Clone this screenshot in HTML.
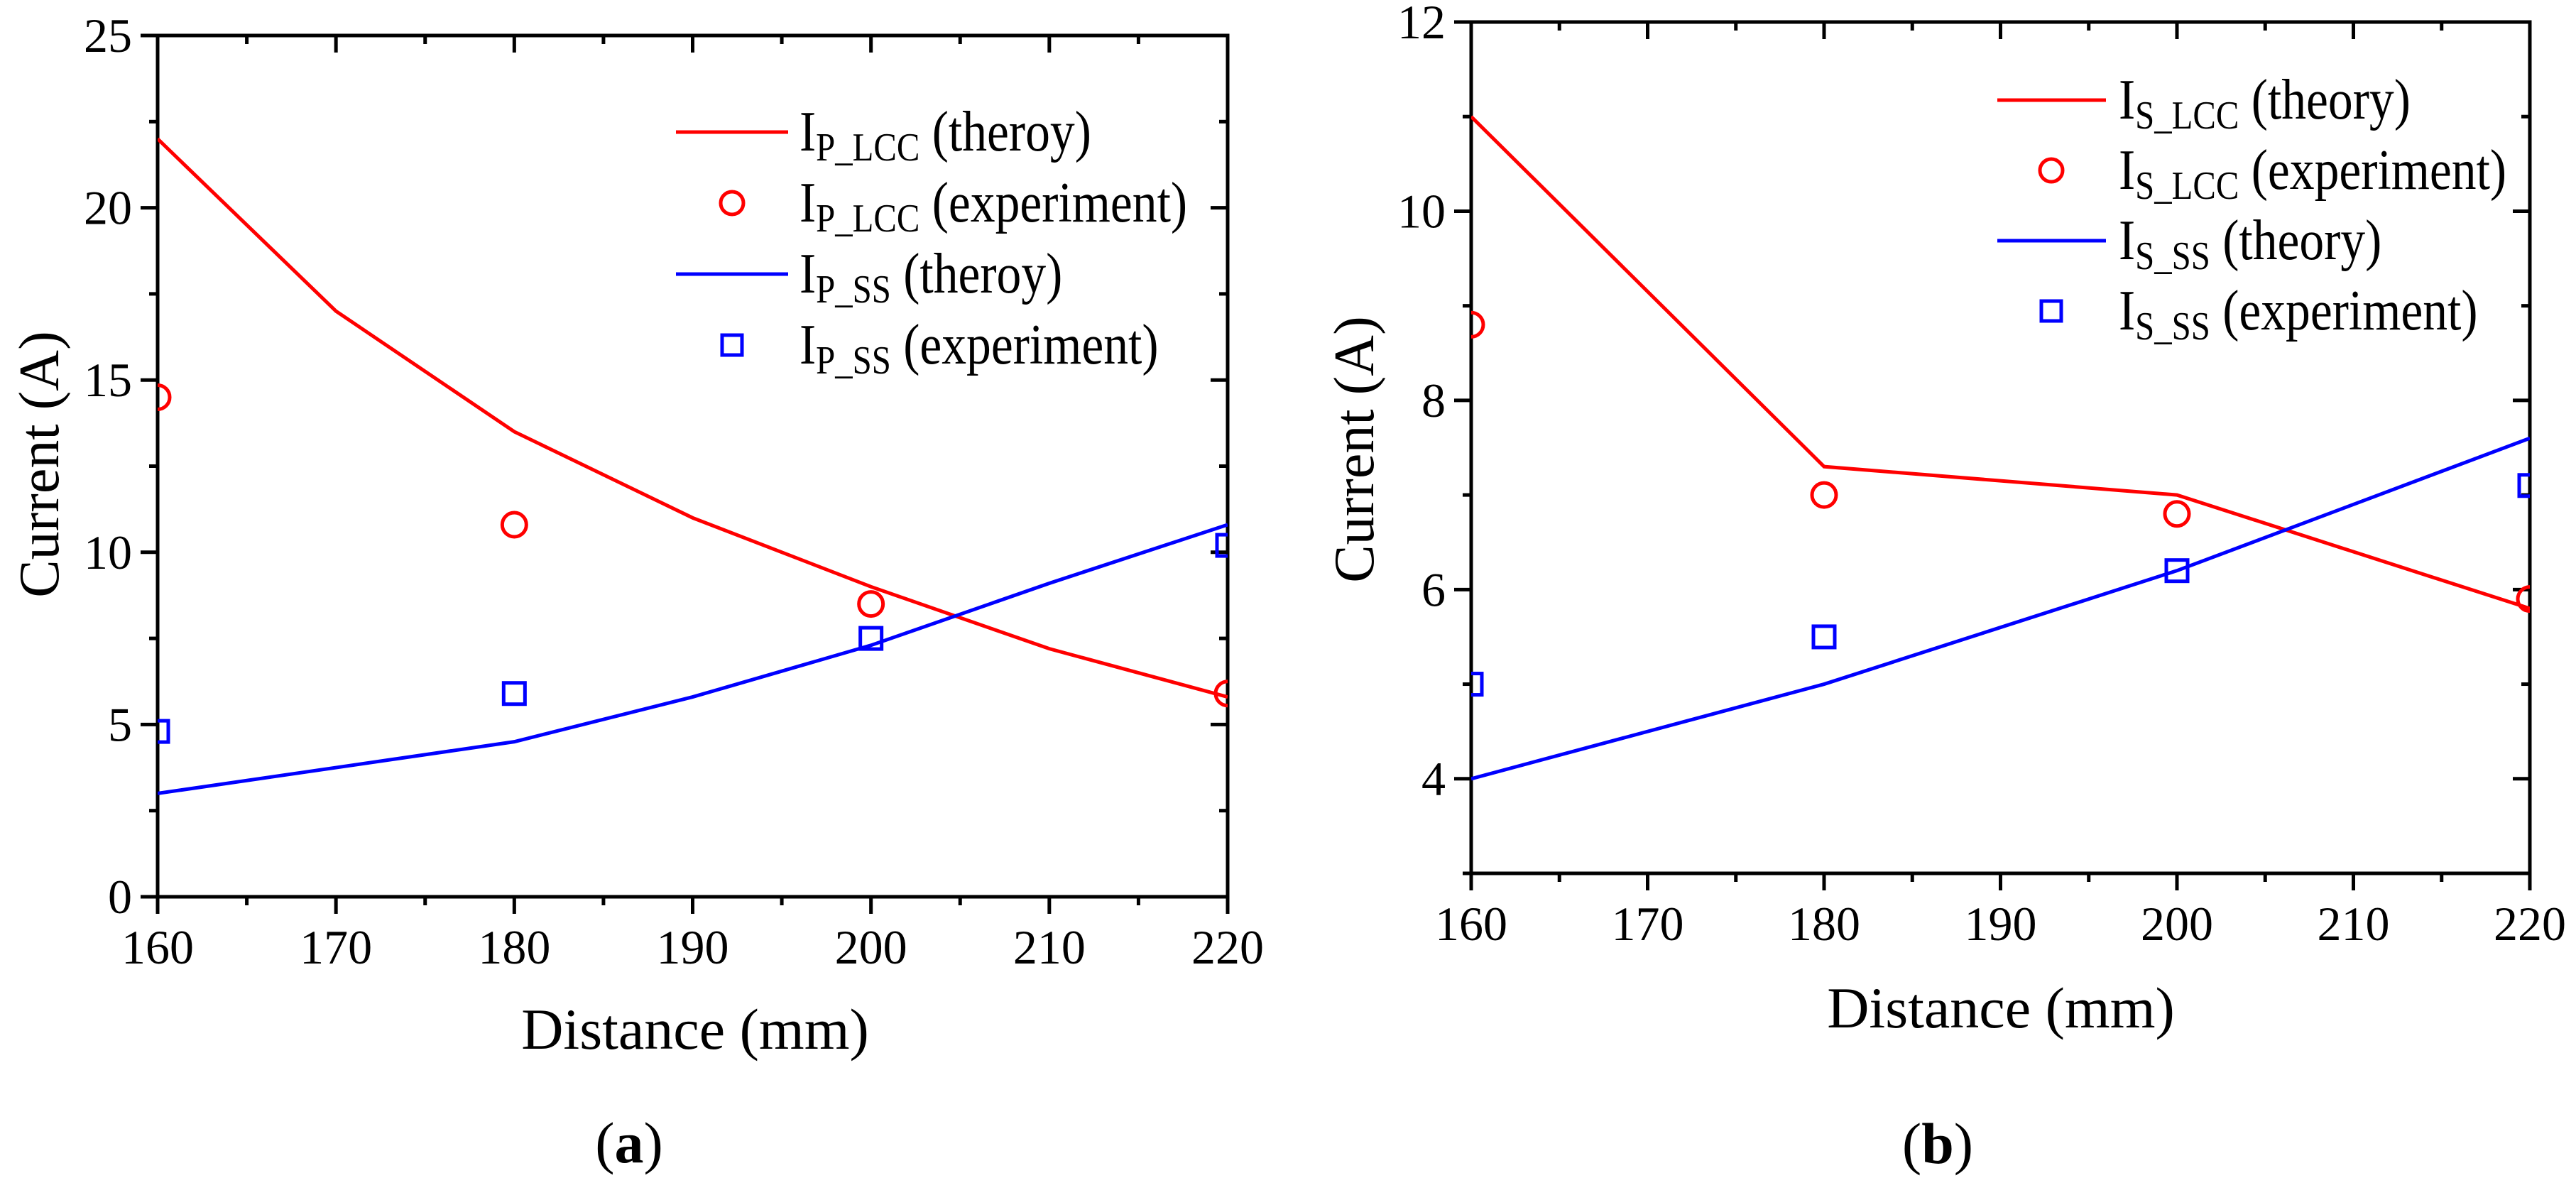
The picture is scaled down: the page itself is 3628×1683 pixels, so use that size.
<!DOCTYPE html>
<html><head><meta charset="utf-8"><style>
html,body{margin:0;padding:0;background:#fff}
text,tspan{font-family:"Liberation Serif","Times New Roman",serif !important;fill:#000}
</style></head><body>
<svg id="s" width="3628" height="1678" viewBox="0 0 3628 1678" xmlns="http://www.w3.org/2000/svg" font-family="Liberation Serif, serif"></svg>
<script>
const xCats = [160,170,180,190,200,210,220];
const xCats4 = [160,180,200,220];
const xTickLabels = ["160","170","180","190","200","210","220"];
// panel a
const aLccTheory = [22,17,13.5,11,9,7.2,5.8];
const aLccExp = [14.5,10.8,8.5,5.9];
const aSsTheory = [3,3.75,4.5,5.8,7.3,9.1,10.8];
const aSsExp = [4.8,5.9,7.5,10.2];
const aYTicks = [0,5,10,15,20,25];
// panel b
const bLccTheory = [11,7.3,7.0,5.8];
const bLccExp = [8.8,7.0,6.8,5.9];
const bSsTheory = [4,5,6.2,7.6];
const bSsExp = [5.0,5.5,6.2,7.1];
const bYTicks = [4,6,8,10,12];

const NS="http://www.w3.org/2000/svg";
const svg=document.getElementById('s');
function el(tag,attrs,parent){const e=document.createElementNS(NS,tag);for(const k in attrs)e.setAttribute(k,attrs[k]);if(tag==='text')e.setAttribute('font-family','Liberation Serif, serif');(parent||svg).appendChild(e);return e;}

function panel(p){
  const g=el('g',{});
  
  
  const X=v=>p.x0+(v-160)/60*(p.x1-p.x0);
  const Y=v=>p.y1-(v-p.ymin)/(p.ymax-p.ymin)*(p.y1-p.y0);
  const cid='clip'+p.name;
  const cp=el('clipPath',{id:cid},g);
  el('rect',{x:p.x0,y:p.y0,width:p.x1-p.x0,height:p.y1-p.y0},cp);
  for(let v=160;v<=220;v+=5){
    const major=v%10===0, L=major?24:12, xx=X(v);
    const t=el('line',{x1:xx,x2:xx,y1:p.y1,y2:p.y1+L,stroke:'#000','stroke-width':5},g);
    
    el('line',{x1:xx,x2:xx,y1:p.y0,y2:p.y0+L,stroke:'#000','stroke-width':5},g);
  }
  xTickLabels.forEach((s,i)=>{
    const t=el('text',{x:X(xCats[i]),y:p.y1+94,'font-size':68,'text-anchor':'middle'},g);t.textContent=s;
    
  });
  for(let v=p.ymin;v<=p.ymax+1e-9;v+=p.minor){
    const major=p.yTicks.some(m=>Math.abs(m-v)<1e-9), L=major?24:12, yy=Y(v);
    el('line',{x1:p.x0-L,x2:p.x0,y1:yy,y2:yy,stroke:'#000','stroke-width':5},g);
    el('line',{x1:p.x1-L,x2:p.x1,y1:yy,y2:yy,stroke:'#000','stroke-width':5},g);
  }
  p.yTicks.forEach(v=>{
    const t=el('text',{x:p.x0-36,y:Y(v)+23,'font-size':68,'text-anchor':'end'},g);t.textContent=String(v);
    
  });
  const fr=el('rect',{x:p.x0,y:p.y0,width:p.x1-p.x0,height:p.y1-p.y0,fill:'none',stroke:'#000','stroke-width':5},g);
  
  const dg=el('g',{'clip-path':'url(#'+cid+')'},g);
  function line(xs,ys,c,n){const l=el('polyline',{points:xs.map((x,i)=>X(x)+','+Y(ys[i])).join(' '),fill:'none',stroke:c,'stroke-width':5},dg);
    }
  function circles(xs,ys,n){xs.forEach((x,i)=>{const c=el('circle',{cx:X(x),cy:Y(ys[i]),r:17,fill:'none',stroke:'#f00','stroke-width':5},dg);
    });}
  function squares(xs,ys,n){xs.forEach((x,i)=>{const c=el('rect',{x:X(x)-15,y:Y(ys[i])-15,width:30,height:30,fill:'none',stroke:'#00f','stroke-width':5},dg);
    });}
  line(p.lccX,p.lccT,'#f00','lcc-theory-line');
  line(p.ssX,p.ssT,'#00f','ss-theory-line');
  circles(xCats4,p.lccE,'lcc-experiment-point');
  squares(xCats4,p.ssE,'ss-experiment-point');
  const yt=el('text',{x:0,y:0,'font-size':80,'text-anchor':'middle',transform:`translate(${p.ytx},${p.yty}) rotate(-90)`},g);
  yt.textContent='Current (A)';
  const xt=el('text',{x:p.xtx,y:p.xty,'font-size':82,'text-anchor':'middle'},g);
  xt.textContent='Distance (mm)';
  const cap=el('text',{x:p.capx,y:p.capy,'font-size':82,'text-anchor':'middle'},g);
  cap.innerHTML='(<tspan font-weight="bold">'+p.cap+'</tspan>)';
  
  const lg=el('g',{},g);
  p.legend.forEach((e,i)=>{
    const yy=p.ly+i*p.lstep;
    const eg=el('g',{},lg);
    if(e.t==='line')el('line',{x1:p.lx0,x2:p.lx1,y1:yy,y2:yy,stroke:e.c,'stroke-width':5},eg);
    else if(e.t==='circle')el('circle',{cx:p.mx,cy:yy,r:16,fill:'none',stroke:e.c,'stroke-width':5},eg);
    else el('rect',{x:p.mx-14,y:yy-14,width:28,height:28,fill:'none',stroke:e.c,'stroke-width':5},eg);
    const t=el('text',{x:0,y:0,'font-size':80,transform:`translate(${p.tx},${yy+26}) scale(0.87,1)`},eg);
    t.innerHTML='I<tspan font-size="56" dy="14">'+e.sub+'</tspan><tspan dy="-14"> '+e.txt+'</tspan>';
  });
}

panel({name:'panel-a',x0:222,x1:1729,y0:50,y1:1263,ymin:0,ymax:25,minor:2.5,yTicks:aYTicks,
  lccX:xCats,lccT:aLccTheory,ssX:xCats,ssT:aSsTheory,lccE:aLccExp,ssE:aSsExp,
  ytx:82,yty:654,xtx:979,xty:1477,capx:886,capy:1637,cap:'a',
  lx0:952,lx1:1110,mx:1031,tx:1126,ly:186,lstep:100,
  legend:[{t:'line',c:'#f00',sub:'P_LCC',txt:'(theroy)'},{t:'circle',c:'#f00',sub:'P_LCC',txt:'(experiment)'},
          {t:'line',c:'#00f',sub:'P_SS',txt:'(theroy)'},{t:'square',c:'#00f',sub:'P_SS',txt:'(experiment)'}]});
panel({name:'panel-b',x0:2072,x1:3563,y0:31,y1:1230,ymin:3,ymax:12,minor:1,yTicks:bYTicks,
  lccX:xCats4,lccT:bLccTheory,ssX:xCats4,ssT:bSsTheory,lccE:bLccExp,ssE:bSsExp,
  ytx:1934,yty:633,xtx:2818,xty:1447,capx:2729,capy:1638,cap:'b',
  lx0:2813,lx1:2966,mx:2889,tx:2984,ly:141,lstep:99,
  legend:[{t:'line',c:'#f00',sub:'S_LCC',txt:'(theory)'},{t:'circle',c:'#f00',sub:'S_LCC',txt:'(experiment)'},
          {t:'line',c:'#00f',sub:'S_SS',txt:'(theory)'},{t:'square',c:'#00f',sub:'S_SS',txt:'(experiment)'}]});
</script>
</body></html>
